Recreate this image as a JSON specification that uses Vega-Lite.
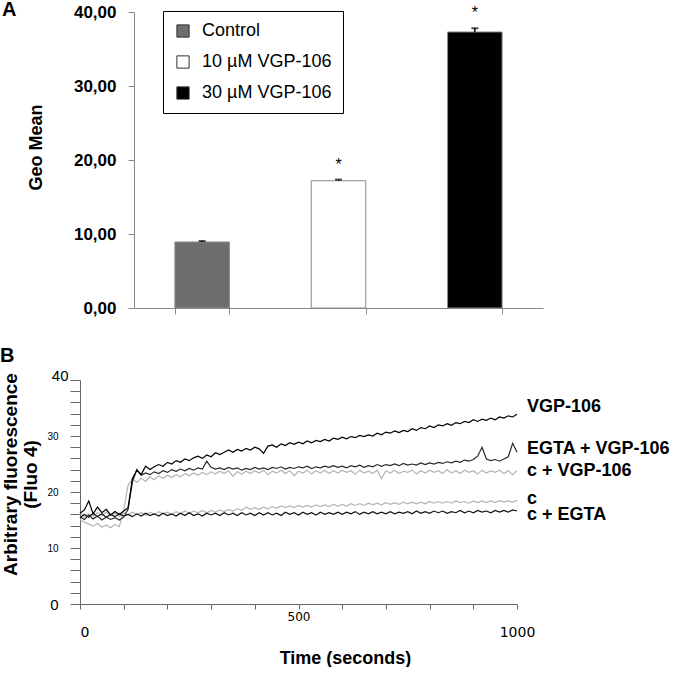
{
"$schema": "https://vega.github.io/schema/vega-lite/v6.json",
"padding": 0,
"background": "white",
"spacing": 30,
"config": {"view": {"stroke": null}, "font": "Liberation Sans", "axis": {"grid": false, "labelColor": "#000", "titleColor": "#000", "labelOverlap": false}},
"datasets": {
"bars": [
{"group": "Control", "mean": 8.92, "upper": 9.05, "star": ""},
{"group": "10 µM VGP-106", "mean": 17.2, "upper": 17.35, "star": "*"},
{"group": "30 µM VGP-106", "mean": 37.3, "upper": 37.8, "star": "*"}
],
"labels": [
{"label": "VGP-106", "t": 1000, "ly": 35.2},
{"label": "EGTA + VGP-106", "t": 1000, "ly": 27.7},
{"label": "c + VGP-106", "t": 1000, "ly": 23.75},
{"label": "c", "t": 1000, "ly": 18.7},
{"label": "c + EGTA", "t": 1000, "ly": 15.9}
],
"traces": [
{"s":"c+VGP","t":0,"v":15.1},{"s":"c+VGP","t":10,"v":14.6},{"s":"c+VGP","t":20,"v":14.3},{"s":"c+VGP","t":30,"v":13.9},{"s":"c+VGP","t":40,"v":14.4},{"s":"c+VGP","t":50,"v":13.7},{"s":"c+VGP","t":60,"v":14.1},{"s":"c+VGP","t":70,"v":13.6},{"s":"c+VGP","t":80,"v":14.2},{"s":"c+VGP","t":90,"v":13.8},
{"s":"c+VGP","t":100,"v":16.8},{"s":"c+VGP","t":110,"v":21.2},{"s":"c+VGP","t":120,"v":22.3},{"s":"c+VGP","t":130,"v":21.7},{"s":"c+VGP","t":140,"v":22.5},{"s":"c+VGP","t":150,"v":21.9},{"s":"c+VGP","t":160,"v":22.7},{"s":"c+VGP","t":170,"v":22.2},{"s":"c+VGP","t":180,"v":22.9},{"s":"c+VGP","t":190,"v":22.4},
{"s":"c+VGP","t":200,"v":23.0},{"s":"c+VGP","t":210,"v":22.6},{"s":"c+VGP","t":220,"v":23.1},{"s":"c+VGP","t":230,"v":22.7},{"s":"c+VGP","t":240,"v":23.3},{"s":"c+VGP","t":250,"v":22.9},{"s":"c+VGP","t":260,"v":23.4},{"s":"c+VGP","t":270,"v":23.0},{"s":"c+VGP","t":280,"v":23.5},{"s":"c+VGP","t":290,"v":23.1},
{"s":"c+VGP","t":300,"v":23.6},{"s":"c+VGP","t":310,"v":23.2},{"s":"c+VGP","t":320,"v":23.7},{"s":"c+VGP","t":330,"v":23.3},{"s":"c+VGP","t":340,"v":23.8},{"s":"c+VGP","t":350,"v":22.8},{"s":"c+VGP","t":360,"v":23.6},{"s":"c+VGP","t":370,"v":23.2},{"s":"c+VGP","t":380,"v":23.7},{"s":"c+VGP","t":390,"v":23.3},
{"s":"c+VGP","t":400,"v":23.8},{"s":"c+VGP","t":410,"v":23.4},{"s":"c+VGP","t":420,"v":23.9},{"s":"c+VGP","t":430,"v":23.1},{"s":"c+VGP","t":440,"v":23.7},{"s":"c+VGP","t":450,"v":23.4},{"s":"c+VGP","t":460,"v":23.9},{"s":"c+VGP","t":470,"v":23.3},{"s":"c+VGP","t":480,"v":23.8},{"s":"c+VGP","t":490,"v":22.9},
{"s":"c+VGP","t":500,"v":23.7},{"s":"c+VGP","t":510,"v":23.4},{"s":"c+VGP","t":520,"v":23.9},{"s":"c+VGP","t":530,"v":23.2},{"s":"c+VGP","t":540,"v":23.8},{"s":"c+VGP","t":550,"v":23.4},{"s":"c+VGP","t":560,"v":23.9},{"s":"c+VGP","t":570,"v":23.3},{"s":"c+VGP","t":580,"v":23.8},{"s":"c+VGP","t":590,"v":23.4},
{"s":"c+VGP","t":600,"v":23.9},{"s":"c+VGP","t":610,"v":23.5},{"s":"c+VGP","t":620,"v":23.8},{"s":"c+VGP","t":630,"v":23.2},{"s":"c+VGP","t":640,"v":23.9},{"s":"c+VGP","t":650,"v":23.4},{"s":"c+VGP","t":660,"v":23.7},{"s":"c+VGP","t":670,"v":23.3},{"s":"c+VGP","t":680,"v":23.9},{"s":"c+VGP","t":690,"v":22.4},
{"s":"c+VGP","t":700,"v":23.8},{"s":"c+VGP","t":710,"v":23.4},{"s":"c+VGP","t":720,"v":23.9},{"s":"c+VGP","t":730,"v":23.3},{"s":"c+VGP","t":740,"v":23.7},{"s":"c+VGP","t":750,"v":23.5},{"s":"c+VGP","t":760,"v":23.9},{"s":"c+VGP","t":770,"v":23.2},{"s":"c+VGP","t":780,"v":23.8},{"s":"c+VGP","t":790,"v":23.4},
{"s":"c+VGP","t":800,"v":23.9},{"s":"c+VGP","t":810,"v":23.5},{"s":"c+VGP","t":820,"v":23.8},{"s":"c+VGP","t":830,"v":23.3},{"s":"c+VGP","t":840,"v":24.0},{"s":"c+VGP","t":850,"v":23.4},{"s":"c+VGP","t":860,"v":23.8},{"s":"c+VGP","t":870,"v":23.3},{"s":"c+VGP","t":880,"v":23.9},{"s":"c+VGP","t":890,"v":23.5},
{"s":"c+VGP","t":900,"v":23.8},{"s":"c+VGP","t":910,"v":23.2},{"s":"c+VGP","t":920,"v":23.9},{"s":"c+VGP","t":930,"v":23.4},{"s":"c+VGP","t":940,"v":23.8},{"s":"c+VGP","t":950,"v":23.5},{"s":"c+VGP","t":960,"v":23.9},{"s":"c+VGP","t":970,"v":23.3},{"s":"c+VGP","t":980,"v":23.8},{"s":"c+VGP","t":990,"v":23.1},{"s":"c+VGP","t":1000,"v":23.8},
{"s":"c","t":0,"v":16.4},{"s":"c","t":10,"v":15.6},{"s":"c","t":20,"v":16.1},{"s":"c","t":30,"v":15.7},{"s":"c","t":40,"v":16.3},{"s":"c","t":50,"v":15.8},{"s":"c","t":60,"v":16.4},{"s":"c","t":70,"v":15.9},{"s":"c","t":80,"v":16.2},{"s":"c","t":90,"v":15.6},
{"s":"c","t":100,"v":16.3},{"s":"c","t":110,"v":15.9},{"s":"c","t":120,"v":16.4},{"s":"c","t":130,"v":16.0},{"s":"c","t":140,"v":16.3},{"s":"c","t":150,"v":15.9},{"s":"c","t":160,"v":16.4},{"s":"c","t":170,"v":16.0},{"s":"c","t":180,"v":16.5},{"s":"c","t":190,"v":16.1},
{"s":"c","t":200,"v":16.4},{"s":"c","t":210,"v":16.0},{"s":"c","t":220,"v":16.5},{"s":"c","t":230,"v":16.1},{"s":"c","t":240,"v":16.6},{"s":"c","t":250,"v":16.2},{"s":"c","t":260,"v":16.6},{"s":"c","t":270,"v":16.3},{"s":"c","t":280,"v":16.7},{"s":"c","t":290,"v":16.3},
{"s":"c","t":300,"v":16.7},{"s":"c","t":310,"v":16.4},{"s":"c","t":320,"v":16.8},{"s":"c","t":330,"v":16.5},{"s":"c","t":340,"v":16.9},{"s":"c","t":350,"v":16.6},{"s":"c","t":360,"v":17.0},{"s":"c","t":370,"v":16.7},{"s":"c","t":380,"v":17.3},{"s":"c","t":390,"v":16.9},
{"s":"c","t":400,"v":17.2},{"s":"c","t":410,"v":16.9},{"s":"c","t":420,"v":17.3},{"s":"c","t":430,"v":17.0},{"s":"c","t":440,"v":17.4},{"s":"c","t":450,"v":17.1},{"s":"c","t":460,"v":17.5},{"s":"c","t":470,"v":17.2},{"s":"c","t":480,"v":17.5},{"s":"c","t":490,"v":17.2},
{"s":"c","t":500,"v":17.6},{"s":"c","t":510,"v":17.3},{"s":"c","t":520,"v":17.6},{"s":"c","t":530,"v":17.3},{"s":"c","t":540,"v":17.7},{"s":"c","t":550,"v":17.4},{"s":"c","t":560,"v":17.7},{"s":"c","t":570,"v":17.4},{"s":"c","t":580,"v":17.8},{"s":"c","t":590,"v":17.5},
{"s":"c","t":600,"v":17.8},{"s":"c","t":610,"v":17.5},{"s":"c","t":620,"v":17.9},{"s":"c","t":630,"v":17.6},{"s":"c","t":640,"v":17.9},{"s":"c","t":650,"v":17.6},{"s":"c","t":660,"v":18.0},{"s":"c","t":670,"v":17.7},{"s":"c","t":680,"v":18.0},{"s":"c","t":690,"v":17.7},
{"s":"c","t":700,"v":18.1},{"s":"c","t":710,"v":17.8},{"s":"c","t":720,"v":18.1},{"s":"c","t":730,"v":17.8},{"s":"c","t":740,"v":18.2},{"s":"c","t":750,"v":17.9},{"s":"c","t":760,"v":18.2},{"s":"c","t":770,"v":17.9},{"s":"c","t":780,"v":18.2},{"s":"c","t":790,"v":17.9},
{"s":"c","t":800,"v":18.3},{"s":"c","t":810,"v":18.0},{"s":"c","t":820,"v":18.3},{"s":"c","t":830,"v":18.0},{"s":"c","t":840,"v":18.3},{"s":"c","t":850,"v":18.0},{"s":"c","t":860,"v":18.4},{"s":"c","t":870,"v":18.1},{"s":"c","t":880,"v":18.3},{"s":"c","t":890,"v":18.0},
{"s":"c","t":900,"v":18.4},{"s":"c","t":910,"v":18.1},{"s":"c","t":920,"v":18.4},{"s":"c","t":930,"v":18.1},{"s":"c","t":940,"v":18.4},{"s":"c","t":950,"v":18.1},{"s":"c","t":960,"v":18.5},{"s":"c","t":970,"v":18.2},{"s":"c","t":980,"v":18.4},{"s":"c","t":990,"v":18.2},{"s":"c","t":1000,"v":18.5},
{"s":"c+EGTA","t":0,"v":15.4},{"s":"c+EGTA","t":10,"v":16.0},{"s":"c+EGTA","t":20,"v":15.5},{"s":"c+EGTA","t":30,"v":16.2},{"s":"c+EGTA","t":40,"v":15.6},{"s":"c+EGTA","t":50,"v":16.1},{"s":"c+EGTA","t":60,"v":15.5},{"s":"c+EGTA","t":70,"v":16.0},{"s":"c+EGTA","t":80,"v":15.6},{"s":"c+EGTA","t":90,"v":16.1},
{"s":"c+EGTA","t":100,"v":15.7},{"s":"c+EGTA","t":110,"v":16.0},{"s":"c+EGTA","t":120,"v":15.6},{"s":"c+EGTA","t":130,"v":16.1},{"s":"c+EGTA","t":140,"v":15.7},{"s":"c+EGTA","t":150,"v":16.2},{"s":"c+EGTA","t":160,"v":15.8},{"s":"c+EGTA","t":170,"v":16.1},{"s":"c+EGTA","t":180,"v":15.7},{"s":"c+EGTA","t":190,"v":16.2},
{"s":"c+EGTA","t":200,"v":15.8},{"s":"c+EGTA","t":210,"v":16.1},{"s":"c+EGTA","t":220,"v":15.7},{"s":"c+EGTA","t":230,"v":16.2},{"s":"c+EGTA","t":240,"v":15.8},{"s":"c+EGTA","t":250,"v":16.3},{"s":"c+EGTA","t":260,"v":15.8},{"s":"c+EGTA","t":270,"v":16.1},{"s":"c+EGTA","t":280,"v":15.7},{"s":"c+EGTA","t":290,"v":16.2},
{"s":"c+EGTA","t":300,"v":15.9},{"s":"c+EGTA","t":310,"v":16.2},{"s":"c+EGTA","t":320,"v":15.8},{"s":"c+EGTA","t":330,"v":16.3},{"s":"c+EGTA","t":340,"v":15.9},{"s":"c+EGTA","t":350,"v":16.2},{"s":"c+EGTA","t":360,"v":15.8},{"s":"c+EGTA","t":370,"v":16.3},{"s":"c+EGTA","t":380,"v":15.9},{"s":"c+EGTA","t":390,"v":16.2},
{"s":"c+EGTA","t":400,"v":15.8},{"s":"c+EGTA","t":410,"v":16.3},{"s":"c+EGTA","t":420,"v":15.9},{"s":"c+EGTA","t":430,"v":16.3},{"s":"c+EGTA","t":440,"v":15.9},{"s":"c+EGTA","t":450,"v":16.2},{"s":"c+EGTA","t":460,"v":15.8},{"s":"c+EGTA","t":470,"v":16.4},{"s":"c+EGTA","t":480,"v":16.0},{"s":"c+EGTA","t":490,"v":16.3},
{"s":"c+EGTA","t":500,"v":15.9},{"s":"c+EGTA","t":510,"v":16.4},{"s":"c+EGTA","t":520,"v":16.0},{"s":"c+EGTA","t":530,"v":16.3},{"s":"c+EGTA","t":540,"v":15.9},{"s":"c+EGTA","t":550,"v":16.4},{"s":"c+EGTA","t":560,"v":16.0},{"s":"c+EGTA","t":570,"v":16.3},{"s":"c+EGTA","t":580,"v":16.0},{"s":"c+EGTA","t":590,"v":16.4},
{"s":"c+EGTA","t":600,"v":16.0},{"s":"c+EGTA","t":610,"v":16.4},{"s":"c+EGTA","t":620,"v":16.1},{"s":"c+EGTA","t":630,"v":16.5},{"s":"c+EGTA","t":640,"v":16.0},{"s":"c+EGTA","t":650,"v":16.4},{"s":"c+EGTA","t":660,"v":16.1},{"s":"c+EGTA","t":670,"v":16.5},{"s":"c+EGTA","t":680,"v":16.1},{"s":"c+EGTA","t":690,"v":16.4},
{"s":"c+EGTA","t":700,"v":16.1},{"s":"c+EGTA","t":710,"v":16.5},{"s":"c+EGTA","t":720,"v":16.1},{"s":"c+EGTA","t":730,"v":16.4},{"s":"c+EGTA","t":740,"v":16.2},{"s":"c+EGTA","t":750,"v":16.5},{"s":"c+EGTA","t":760,"v":16.1},{"s":"c+EGTA","t":770,"v":16.6},{"s":"c+EGTA","t":780,"v":16.2},{"s":"c+EGTA","t":790,"v":16.5},
{"s":"c+EGTA","t":800,"v":16.2},{"s":"c+EGTA","t":810,"v":16.6},{"s":"c+EGTA","t":820,"v":16.3},{"s":"c+EGTA","t":830,"v":16.6},{"s":"c+EGTA","t":840,"v":16.2},{"s":"c+EGTA","t":850,"v":16.5},{"s":"c+EGTA","t":860,"v":16.3},{"s":"c+EGTA","t":870,"v":16.7},{"s":"c+EGTA","t":880,"v":16.3},{"s":"c+EGTA","t":890,"v":16.6},
{"s":"c+EGTA","t":900,"v":16.3},{"s":"c+EGTA","t":910,"v":16.7},{"s":"c+EGTA","t":920,"v":16.4},{"s":"c+EGTA","t":930,"v":16.6},{"s":"c+EGTA","t":940,"v":16.3},{"s":"c+EGTA","t":950,"v":16.7},{"s":"c+EGTA","t":960,"v":16.4},{"s":"c+EGTA","t":970,"v":16.7},{"s":"c+EGTA","t":980,"v":16.4},{"s":"c+EGTA","t":990,"v":16.8},{"s":"c+EGTA","t":1000,"v":16.6},
{"s":"EGTA+VGP","t":0,"v":15.6},{"s":"EGTA+VGP","t":10,"v":15.1},{"s":"EGTA+VGP","t":20,"v":15.9},{"s":"EGTA+VGP","t":30,"v":15.2},{"s":"EGTA+VGP","t":40,"v":15.7},{"s":"EGTA+VGP","t":50,"v":15.0},{"s":"EGTA+VGP","t":60,"v":15.5},{"s":"EGTA+VGP","t":70,"v":15.1},{"s":"EGTA+VGP","t":80,"v":15.4},{"s":"EGTA+VGP","t":90,"v":15.0},
{"s":"EGTA+VGP","t":100,"v":15.5},{"s":"EGTA+VGP","t":110,"v":16.9},{"s":"EGTA+VGP","t":120,"v":21.8},{"s":"EGTA+VGP","t":130,"v":24.0},{"s":"EGTA+VGP","t":140,"v":23.0},{"s":"EGTA+VGP","t":150,"v":23.4},{"s":"EGTA+VGP","t":160,"v":23.1},{"s":"EGTA+VGP","t":170,"v":23.6},{"s":"EGTA+VGP","t":180,"v":23.3},{"s":"EGTA+VGP","t":190,"v":23.8},
{"s":"EGTA+VGP","t":200,"v":23.5},{"s":"EGTA+VGP","t":210,"v":24.0},{"s":"EGTA+VGP","t":220,"v":23.7},{"s":"EGTA+VGP","t":230,"v":24.1},{"s":"EGTA+VGP","t":240,"v":23.8},{"s":"EGTA+VGP","t":250,"v":24.2},{"s":"EGTA+VGP","t":260,"v":23.9},{"s":"EGTA+VGP","t":270,"v":24.3},{"s":"EGTA+VGP","t":280,"v":24.1},{"s":"EGTA+VGP","t":290,"v":25.5},
{"s":"EGTA+VGP","t":300,"v":24.4},{"s":"EGTA+VGP","t":310,"v":24.1},{"s":"EGTA+VGP","t":320,"v":24.3},{"s":"EGTA+VGP","t":330,"v":24.0},{"s":"EGTA+VGP","t":340,"v":24.4},{"s":"EGTA+VGP","t":350,"v":24.1},{"s":"EGTA+VGP","t":360,"v":24.3},{"s":"EGTA+VGP","t":370,"v":23.9},{"s":"EGTA+VGP","t":380,"v":24.2},{"s":"EGTA+VGP","t":390,"v":24.0},
{"s":"EGTA+VGP","t":400,"v":24.4},{"s":"EGTA+VGP","t":410,"v":24.1},{"s":"EGTA+VGP","t":420,"v":24.3},{"s":"EGTA+VGP","t":430,"v":24.0},{"s":"EGTA+VGP","t":440,"v":24.4},{"s":"EGTA+VGP","t":450,"v":24.2},{"s":"EGTA+VGP","t":460,"v":24.5},{"s":"EGTA+VGP","t":470,"v":24.1},{"s":"EGTA+VGP","t":480,"v":24.4},{"s":"EGTA+VGP","t":490,"v":24.2},
{"s":"EGTA+VGP","t":500,"v":24.5},{"s":"EGTA+VGP","t":510,"v":24.3},{"s":"EGTA+VGP","t":520,"v":24.6},{"s":"EGTA+VGP","t":530,"v":24.2},{"s":"EGTA+VGP","t":540,"v":24.5},{"s":"EGTA+VGP","t":550,"v":24.3},{"s":"EGTA+VGP","t":560,"v":24.6},{"s":"EGTA+VGP","t":570,"v":24.4},{"s":"EGTA+VGP","t":580,"v":24.7},{"s":"EGTA+VGP","t":590,"v":24.4},
{"s":"EGTA+VGP","t":600,"v":24.6},{"s":"EGTA+VGP","t":610,"v":24.3},{"s":"EGTA+VGP","t":620,"v":24.7},{"s":"EGTA+VGP","t":630,"v":24.5},{"s":"EGTA+VGP","t":640,"v":24.8},{"s":"EGTA+VGP","t":650,"v":24.4},{"s":"EGTA+VGP","t":660,"v":24.7},{"s":"EGTA+VGP","t":670,"v":24.5},{"s":"EGTA+VGP","t":680,"v":24.9},{"s":"EGTA+VGP","t":690,"v":24.6},
{"s":"EGTA+VGP","t":700,"v":24.9},{"s":"EGTA+VGP","t":710,"v":24.7},{"s":"EGTA+VGP","t":720,"v":25.0},{"s":"EGTA+VGP","t":730,"v":24.7},{"s":"EGTA+VGP","t":740,"v":25.1},{"s":"EGTA+VGP","t":750,"v":24.8},{"s":"EGTA+VGP","t":760,"v":25.0},{"s":"EGTA+VGP","t":770,"v":24.8},{"s":"EGTA+VGP","t":780,"v":25.2},{"s":"EGTA+VGP","t":790,"v":24.9},
{"s":"EGTA+VGP","t":800,"v":25.2},{"s":"EGTA+VGP","t":810,"v":25.0},{"s":"EGTA+VGP","t":820,"v":25.3},{"s":"EGTA+VGP","t":830,"v":25.1},{"s":"EGTA+VGP","t":840,"v":25.4},{"s":"EGTA+VGP","t":850,"v":25.2},{"s":"EGTA+VGP","t":860,"v":25.5},{"s":"EGTA+VGP","t":870,"v":25.3},{"s":"EGTA+VGP","t":880,"v":25.7},{"s":"EGTA+VGP","t":890,"v":25.5},
{"s":"EGTA+VGP","t":900,"v":25.8},{"s":"EGTA+VGP","t":910,"v":26.4},{"s":"EGTA+VGP","t":920,"v":28.0},{"s":"EGTA+VGP","t":930,"v":25.9},{"s":"EGTA+VGP","t":940,"v":25.6},{"s":"EGTA+VGP","t":950,"v":25.8},{"s":"EGTA+VGP","t":960,"v":25.5},{"s":"EGTA+VGP","t":970,"v":25.9},{"s":"EGTA+VGP","t":980,"v":26.3},{"s":"EGTA+VGP","t":990,"v":28.7},{"s":"EGTA+VGP","t":1000,"v":27.1},
{"s":"VGP","t":0,"v":16.2},{"s":"VGP","t":10,"v":16.8},{"s":"VGP","t":20,"v":18.4},{"s":"VGP","t":30,"v":16.1},{"s":"VGP","t":40,"v":17.3},{"s":"VGP","t":50,"v":16.3},{"s":"VGP","t":60,"v":16.9},{"s":"VGP","t":70,"v":15.9},{"s":"VGP","t":80,"v":16.5},{"s":"VGP","t":90,"v":16.0},
{"s":"VGP","t":100,"v":16.6},{"s":"VGP","t":110,"v":17.2},{"s":"VGP","t":120,"v":22.4},{"s":"VGP","t":130,"v":23.9},{"s":"VGP","t":140,"v":23.1},{"s":"VGP","t":150,"v":24.6},{"s":"VGP","t":160,"v":24.0},{"s":"VGP","t":170,"v":24.5},{"s":"VGP","t":180,"v":24.9},{"s":"VGP","t":190,"v":24.6},
{"s":"VGP","t":200,"v":25.3},{"s":"VGP","t":210,"v":25.0},{"s":"VGP","t":220,"v":25.6},{"s":"VGP","t":230,"v":25.3},{"s":"VGP","t":240,"v":25.9},{"s":"VGP","t":250,"v":25.6},{"s":"VGP","t":260,"v":26.1},{"s":"VGP","t":270,"v":26.4},{"s":"VGP","t":280,"v":26.0},{"s":"VGP","t":290,"v":26.6},
{"s":"VGP","t":300,"v":26.3},{"s":"VGP","t":310,"v":27.0},{"s":"VGP","t":320,"v":26.7},{"s":"VGP","t":330,"v":27.1},{"s":"VGP","t":340,"v":27.5},{"s":"VGP","t":350,"v":27.1},{"s":"VGP","t":360,"v":27.6},{"s":"VGP","t":370,"v":27.3},{"s":"VGP","t":380,"v":27.8},{"s":"VGP","t":390,"v":27.5},
{"s":"VGP","t":400,"v":28.0},{"s":"VGP","t":410,"v":27.7},{"s":"VGP","t":420,"v":26.9},{"s":"VGP","t":430,"v":28.2},{"s":"VGP","t":440,"v":28.4},{"s":"VGP","t":450,"v":28.0},{"s":"VGP","t":460,"v":28.6},{"s":"VGP","t":470,"v":28.3},{"s":"VGP","t":480,"v":28.8},{"s":"VGP","t":490,"v":28.5},
{"s":"VGP","t":500,"v":28.9},{"s":"VGP","t":510,"v":28.6},{"s":"VGP","t":520,"v":29.1},{"s":"VGP","t":530,"v":28.8},{"s":"VGP","t":540,"v":29.2},{"s":"VGP","t":550,"v":29.0},{"s":"VGP","t":560,"v":29.4},{"s":"VGP","t":570,"v":29.1},{"s":"VGP","t":580,"v":29.6},{"s":"VGP","t":590,"v":29.4},
{"s":"VGP","t":600,"v":29.8},{"s":"VGP","t":610,"v":29.5},{"s":"VGP","t":620,"v":29.9},{"s":"VGP","t":630,"v":29.7},{"s":"VGP","t":640,"v":30.1},{"s":"VGP","t":650,"v":29.9},{"s":"VGP","t":660,"v":30.2},{"s":"VGP","t":670,"v":30.0},{"s":"VGP","t":680,"v":30.5},{"s":"VGP","t":690,"v":30.2},
{"s":"VGP","t":700,"v":30.7},{"s":"VGP","t":710,"v":30.5},{"s":"VGP","t":720,"v":30.9},{"s":"VGP","t":730,"v":30.6},{"s":"VGP","t":740,"v":31.0},{"s":"VGP","t":750,"v":30.8},{"s":"VGP","t":760,"v":31.3},{"s":"VGP","t":770,"v":31.0},{"s":"VGP","t":780,"v":31.5},{"s":"VGP","t":790,"v":31.3},
{"s":"VGP","t":800,"v":31.8},{"s":"VGP","t":810,"v":31.5},{"s":"VGP","t":820,"v":32.0},{"s":"VGP","t":830,"v":31.8},{"s":"VGP","t":840,"v":32.2},{"s":"VGP","t":850,"v":31.9},{"s":"VGP","t":860,"v":32.4},{"s":"VGP","t":870,"v":32.2},{"s":"VGP","t":880,"v":32.6},{"s":"VGP","t":890,"v":32.4},
{"s":"VGP","t":900,"v":32.9},{"s":"VGP","t":910,"v":32.6},{"s":"VGP","t":920,"v":33.0},{"s":"VGP","t":930,"v":32.8},{"s":"VGP","t":940,"v":33.2},{"s":"VGP","t":950,"v":32.9},{"s":"VGP","t":960,"v":33.4},{"s":"VGP","t":970,"v":33.2},{"s":"VGP","t":980,"v":33.6},{"s":"VGP","t":990,"v":33.4},{"s":"VGP","t":1000,"v":33.9}
]
},
"vconcat": [
{
"width": 463,
"height": 296,
"title": {"text": "A", "anchor": "start", "frame": "group", "dx": -78, "dy": 17, "fontSize": 20, "font": "Liberation Sans", "fontWeight": "bold", "color": "#000", "offset": 0},
"data": {"name": "bars"},
"encoding": {
"x": {"field": "group", "type": "nominal", "sort": null, "scale": {"range": [54, 463], "paddingInner": 0.6, "paddingOuter": 0.3},
"axis": {"labels": false, "title": null, "tickBand": "extent", "tickSize": 6, "tickColor": "#888", "domainColor": "#888"}}
},
"layer": [
{"mark": {"type": "bar", "stroke": "#8a8a8a", "strokeWidth": 1},
"encoding": {
"y": {"field": "mean", "type": "quantitative", "scale": {"domain": [0, 40]},
"axis": {"values": [0, 10, 20, 30, 40], "tickCount": 10, "labelExpr": "replace(format(datum.value, '.2f'), '.', ',')", "labelFont": "Liberation Sans", "labelFontSize": 17, "labelFontWeight": "bold", "tickSize": 6, "tickColor": "#888", "domainColor": "#888", "labelPadding": 12, "offset": -54, "title": "Geo Mean", "titleFont": "Liberation Sans", "titleFontSize": 18, "titleFontWeight": "bold", "titlePadding": 28, "titleY": 135}},
"fill": {"field": "group", "type": "nominal", "sort": null,
"scale": {"domain": ["Control", "10 µM VGP-106", "30 µM VGP-106"], "range": ["#6e6e6e", "#ffffff", "#000000"]},
"legend": {"orient": "none", "legendX": 83, "legendY": -1, "title": null, "labelFont": "Liberation Sans", "labelFontSize": 18, "labelColor": "#000", "symbolType": "square", "symbolSize": 150, "symbolStrokeColor": "#333", "symbolStrokeWidth": 1, "strokeColor": "#000", "fillColor": "#fff", "padding": 11, "rowPadding": 13, "labelOffset": 10}}
}},
{"mark": {"type": "rule", "color": "#000", "strokeWidth": 1.5},
"encoding": {"y": {"field": "mean", "type": "quantitative"}, "y2": {"field": "upper"}}},
{"mark": {"type": "tick", "color": "#000", "thickness": 2, "size": 7},
"encoding": {"y": {"field": "upper", "type": "quantitative"}}},
{"mark": {"type": "text", "fontSize": 16, "font": "Liberation Sans", "baseline": "middle", "dy": -15, "color": "#000"},
"encoding": {"y": {"field": "upper", "type": "quantitative"}, "text": {"field": "star"}}}
]
},
{
"width": 437,
"height": 224,
"title": {"text": "B", "anchor": "start", "frame": "group", "dx": -80, "fontSize": 20, "font": "Liberation Sans", "fontWeight": "bold", "color": "#000", "offset": 2},
"layer": [
{"data": {"name": "traces"},
"mark": {"type": "line", "strokeWidth": 1.2},
"encoding": {
"x": {"field": "t", "type": "quantitative", "scale": {"domain": [0, 1000]},
"axis": {"values": [0, 100, 200, 300, 400, 500, 600, 700, 800, 900, 1000], "tickCount": 30, "format": "d", "labelExpr": "datum.value == 0 || datum.value == 500 || datum.value == 1000 ? datum.label : ''", "labelFont": "DejaVu Sans", "labelFontSize": {"condition": {"test": "datum.value == 500", "value": 12}, "value": 14}, "labelPadding": {"condition": {"test": "datum.value == 500", "value": 2}, "value": 16}, "labelAlign": {"condition": {"test": "datum.value == 0", "value": "left"}, "value": "center"}, "tickSize": 5, "tickColor": "#666", "domainColor": "#666", "title": "Time (seconds)", "titleFont": "Liberation Sans", "titleFontSize": 18, "titleFontWeight": "bold", "titlePadding": 10, "titleX": 265}},
"y": {"field": "v", "type": "quantitative", "scale": {"domain": [0, 40]},
"axis": {"values": [0, 2, 4, 6, 8, 10, 12, 14, 16, 18, 20, 22, 24, 26, 28, 30, 32, 34, 36, 38, 40], "tickCount": 30, "labelExpr": "datum.value % 10 == 0 ? datum.label : ''", "labelFont": "Liberation Sans", "labelFontSize": {"condition": {"test": "datum.value == 0 || datum.value == 40", "value": 15}, "value": 10}, "labelPadding": {"condition": {"test": "datum.value == 40", "value": 2}, "value": 12}, "labelBaseline": {"condition": {"test": "datum.value == 40", "value": "alphabetic"}, "value": "middle"}, "tickSize": 10, "tickColor": "#666", "domainColor": "#666", "title": ["Arbitrary fluorescence", "(Fluo 4)"], "titleFont": "Liberation Sans", "titleFontSize": 19, "titleFontWeight": "bold", "titleLineHeight": 20, "titlePadding": 6, "titleY": 94}},
"color": {"field": "s", "type": "nominal", "scale": {"domain": ["c+VGP", "c", "c+EGTA", "EGTA+VGP", "VGP"], "range": ["#b4b4b4", "#b4b4b4", "#111111", "#2a2a2a", "#000000"]}, "legend": null}
}},
{"data": {"name": "labels"},
"mark": {"type": "text", "align": "left", "baseline": "middle", "dx": 10, "fontSize": 18, "fontWeight": "bold", "font": "Liberation Sans", "color": "#000"},
"encoding": {
"x": {"field": "t", "type": "quantitative"},
"y": {"field": "ly", "type": "quantitative"},
"text": {"field": "label"}
}}
]
}
]
}
